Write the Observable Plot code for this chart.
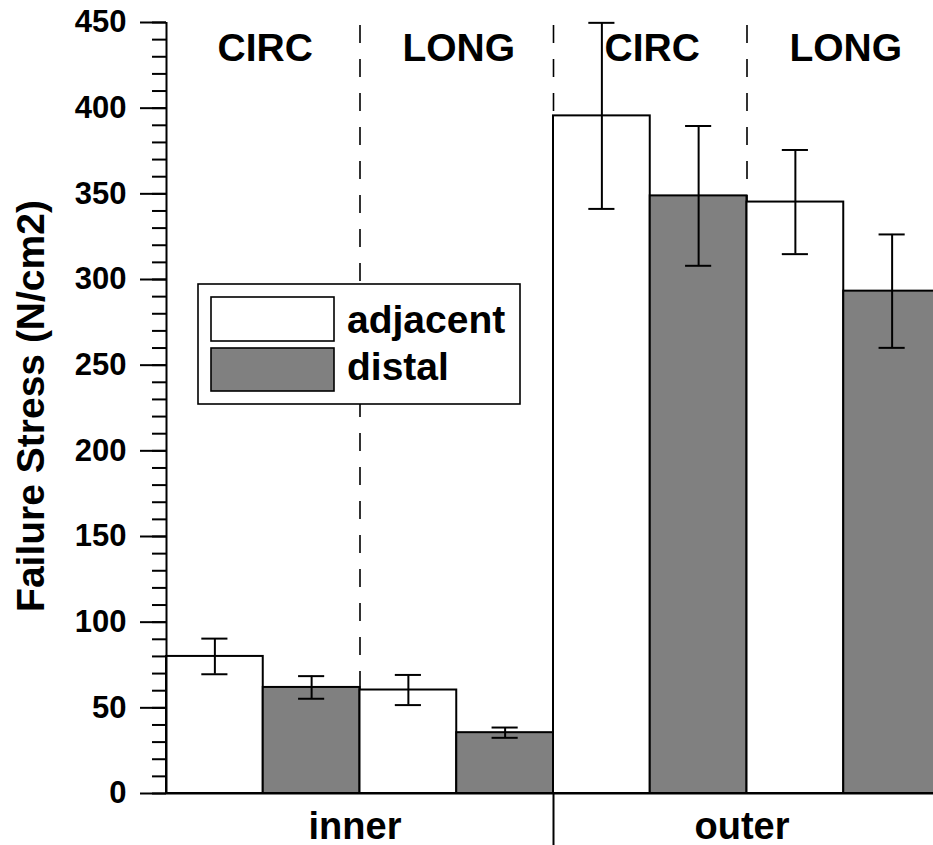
<!DOCTYPE html>
<html>
<head>
<meta charset="utf-8">
<script src="https://cdn.jsdelivr.net/npm/d3@7"></script>
<script src="https://cdn.jsdelivr.net/npm/@observablehq/plot@0.6"></script>
<style>
  body { margin: 0; background: #fff; }
  #wrap { position: relative; width: 933px; height: 845px; overflow: hidden; background: #fff; }
</style>
</head>
<body>
<div id="wrap"></div>
<script>
// ---- data ----
const locations = ["inner", "outer"];
const orientations = ["CIRC", "LONG"];
const sites = ["adjacent", "distal"];
// order: inner CIRC adj, inner CIRC dist, inner LONG adj, inner LONG dist, outer CIRC adj, ...
const meanStress = [80.0, 61.9, 60.4, 35.5, 395.5, 348.8, 345.2, 293.2];
const errStress  = [10.4, 6.6, 8.8, 3.0, 54.3, 40.8, 30.4, 33.1];
const yMajorTicks = [0, 50, 100, 150, 200, 250, 300, 350, 400, 450];
const yMinorTicks = d3.range(0, 451, 10);
const yLabel = "Failure Stress (N/cm2)";

// ---- layout ----
const W = 933, H = 845, MT = 22, MB = 52, ML = 166;
const FONT = '"Liberation Sans", Arial, Helvetica, sans-serif';
const siteColors = ["#ffffff", "#808080"];

const rows = [];
let k = 0;
for (const loc of locations)
  for (const ori of orientations)
    for (const site of sites) {
      rows.push({loc, ori, site, idx: k, mean: meanStress[k], err: errStress[k]});
      k++;
    }
const nBars = rows.length;
const oriGroups = d3.groups(rows, d => d.loc + "|" + d.ori).map(([key, g]) => ({
  label: g[0].ori, center: (d3.min(g, d => d.idx) + d3.max(g, d => d.idx) + 1) / 2, start: d3.min(g, d => d.idx)
}));
const locGroups = d3.groups(rows, d => d.loc).map(([loc, g]) => ({
  label: loc, center: (d3.min(g, d => d.idx) + d3.max(g, d => d.idx) + 1) / 2, start: d3.min(g, d => d.idx)
}));
const dividers = oriGroups.filter(g => g.start > 0).map(g => g.start);
const locDividers = locGroups.filter(g => g.start > 0).map(g => g.start);
const capHalf = 0.135;

const chart = Plot.plot({
  width: W,
  height: H,
  marginTop: MT,
  marginBottom: MB,
  marginLeft: ML,
  marginRight: -7,
  style: {fontFamily: FONT, fontWeight: "bold", background: "white", overflow: "visible"},
  x: {domain: [0, nBars], range: [ML, 940], axis: null},
  y: {domain: [0, 450], range: [H - MB, MT], axis: null},
  color: {domain: sites, range: siteColors},
  marks: [
    // dashed group dividers
    Plot.ruleX(dividers, {x: d => d, y1: 450, y2: 0, stroke: "black", strokeWidth: 1.6,
      strokeDasharray: "18,16", strokeDashoffset: 31}),
    // solid location divider below axis
    Plot.ruleX(locDividers, {x: d => d, insetTop: H - MT - MB, insetBottom: -MB, stroke: "black", strokeWidth: 2}),
    // bars
    Plot.rectY(rows, {x1: d => d.idx, x2: d => d.idx + 1, y: "mean", fill: "site", stroke: "black", strokeWidth: 2, inset: 0}),
    // error bars
    Plot.ruleX(rows, {x: d => d.idx + 0.5, y1: d => d.mean - d.err, y2: d => d.mean + d.err, stroke: "black", strokeWidth: 2}),
    Plot.ruleY(rows, {y: d => d.mean + d.err, x1: d => d.idx + 0.5 - capHalf, x2: d => d.idx + 0.5 + capHalf, stroke: "black", strokeWidth: 2}),
    Plot.ruleY(rows, {y: d => d.mean - d.err, x1: d => d.idx + 0.5 - capHalf, x2: d => d.idx + 0.5 + capHalf, stroke: "black", strokeWidth: 2}),
    // axes lines
    Plot.ruleX([0], {y1: 0, y2: 450, stroke: "black", strokeWidth: 2}),
    Plot.ruleY([0], {x1: 0, x2: nBars, stroke: "black", strokeWidth: 2}),
    Plot.axisY(yMinorTicks, {tickSize: 14, tickFormat: () => "", label: null, strokeWidth: 2}),
    Plot.axisY(yMajorTicks, {tickSize: 26, tickPadding: 14, label: null, fontSize: 31, fontWeight: "bold",
      fontFamily: FONT, fill: "black", strokeWidth: 2}),
    // y label
    Plot.text([yLabel], {frameAnchor: "left", dx: 43 - ML, dy: -2, rotate: -90, textAnchor: "middle", lineAnchor: "bottom",
      fontSize: 39, fontWeight: "bold", fontFamily: FONT, fill: "black"}),
    // orientation labels
    Plot.text(oriGroups, {x: "center", text: "label", frameAnchor: "top", dy: 38, dx: 2, lineAnchor: "bottom",
      fontSize: 39, fontWeight: "bold", fontFamily: FONT, fill: "black"}),
    // location labels
    Plot.text(locGroups, {x: "center", text: "label", frameAnchor: "bottom", dy: 45, dx: -5, lineAnchor: "bottom",
      fontSize: 38, fontWeight: "bold", fontFamily: FONT, fill: "black"})
  ]
});

const wrap = document.getElementById("wrap");
wrap.appendChild(chart);

// ---- legend (overlay inside plot area) ----
const leg = d3.create("svg")
  .attr("width", 326).attr("height", 124)
  .style("position", "absolute").style("left", "197px").style("top", "283px")
  .style("font-family", FONT).style("font-weight", "bold");
leg.append("rect").attr("x", 1).attr("y", 1).attr("width", 322).attr("height", 120)
  .attr("fill", "white").attr("stroke", "black").attr("stroke-width", 1.6);
sites.forEach((s, i) => {
  leg.append("rect").attr("x", 14).attr("y", 14 + i * 51).attr("width", 123).attr("height", 44 - i)
    .attr("fill", siteColors[i]).attr("stroke", "black").attr("stroke-width", 1.6);
  leg.append("text").attr("x", 150).attr("y", 50 + i * 47).attr("font-size", 39).attr("fill", "black").text(s);
});
wrap.appendChild(leg.node());
</script>
</body>
</html>
